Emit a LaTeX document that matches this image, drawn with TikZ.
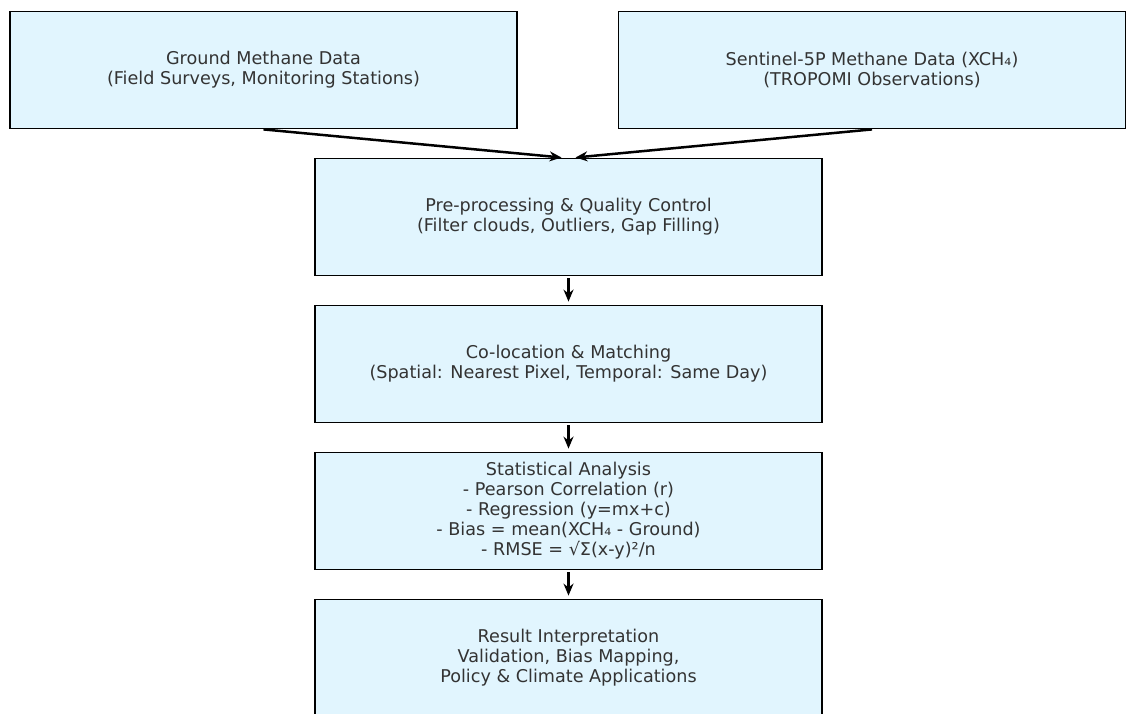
\documentclass[tikz,border=0pt]{standalone}
\usepackage{fontspec}
\setmainfont{DejaVu Sans}
\usetikzlibrary{positioning,arrows.meta}

\definecolor{boxfill}{HTML}{E1F5FE}
\definecolor{boxtext}{HTML}{333333}

\tikzset{
  flowbox/.style={draw=black, fill=boxfill, line width=1.8pt,
    minimum width=507pt, minimum height=117pt, inner sep=0pt,
    align=center, text=boxtext, font=\fontsize{17.6}{20}\selectfont},
}

\begin{document}
\begin{tikzpicture}[->,x=1pt,y=-1pt,node distance=147pt,on grid,
    >={Stealth[length=12pt,width=10pt]},line width=2.5pt]
    \useasboundingbox (0,0) rectangle (1126,713);
			\node[flowbox] (prep) at (568.5,217) {Pre-processing \& Quality Control\\(Filter clouds, Outliers, Gap Filling)};
			\node[flowbox] (ground) [above left=147pt and 305pt of prep] {Ground Methane Data\\(Field Surveys, Monitoring Stations)};
			\node[flowbox] (sentinel) [above right=147pt and 303.5pt of prep] {Sentinel-5P Methane Data (XCH₄)\\(TROPOMI Observations)};
			\node[flowbox] (coloc) [below=of prep] {Co-location \& Matching\\(Spatial: Nearest Pixel, Temporal: Same Day)};
			\node[flowbox] (stats) [below=of coloc] {Statistical Analysis\\- Pearson Correlation (r)\\- Regression (y=mx+c)\\- Bias = mean(XCH₄ - Ground)\\- RMSE = √Σ(x-y)²/n};
			\node[flowbox] (result) [below=of stats] {Result Interpretation\\Validation, Bias Mapping,\\Policy \& Climate Applications};
			\path[shorten >=1pt]
				(ground.south) edge ([xshift=-6pt]prep.north)
				(sentinel.south) edge ([xshift=6pt]prep.north);
			\path[shorten >=3pt,shorten <=2pt]
				(prep) edge (coloc)
				(coloc) edge (stats)
				(stats) edge (result);
		\end{tikzpicture}
\end{document}
